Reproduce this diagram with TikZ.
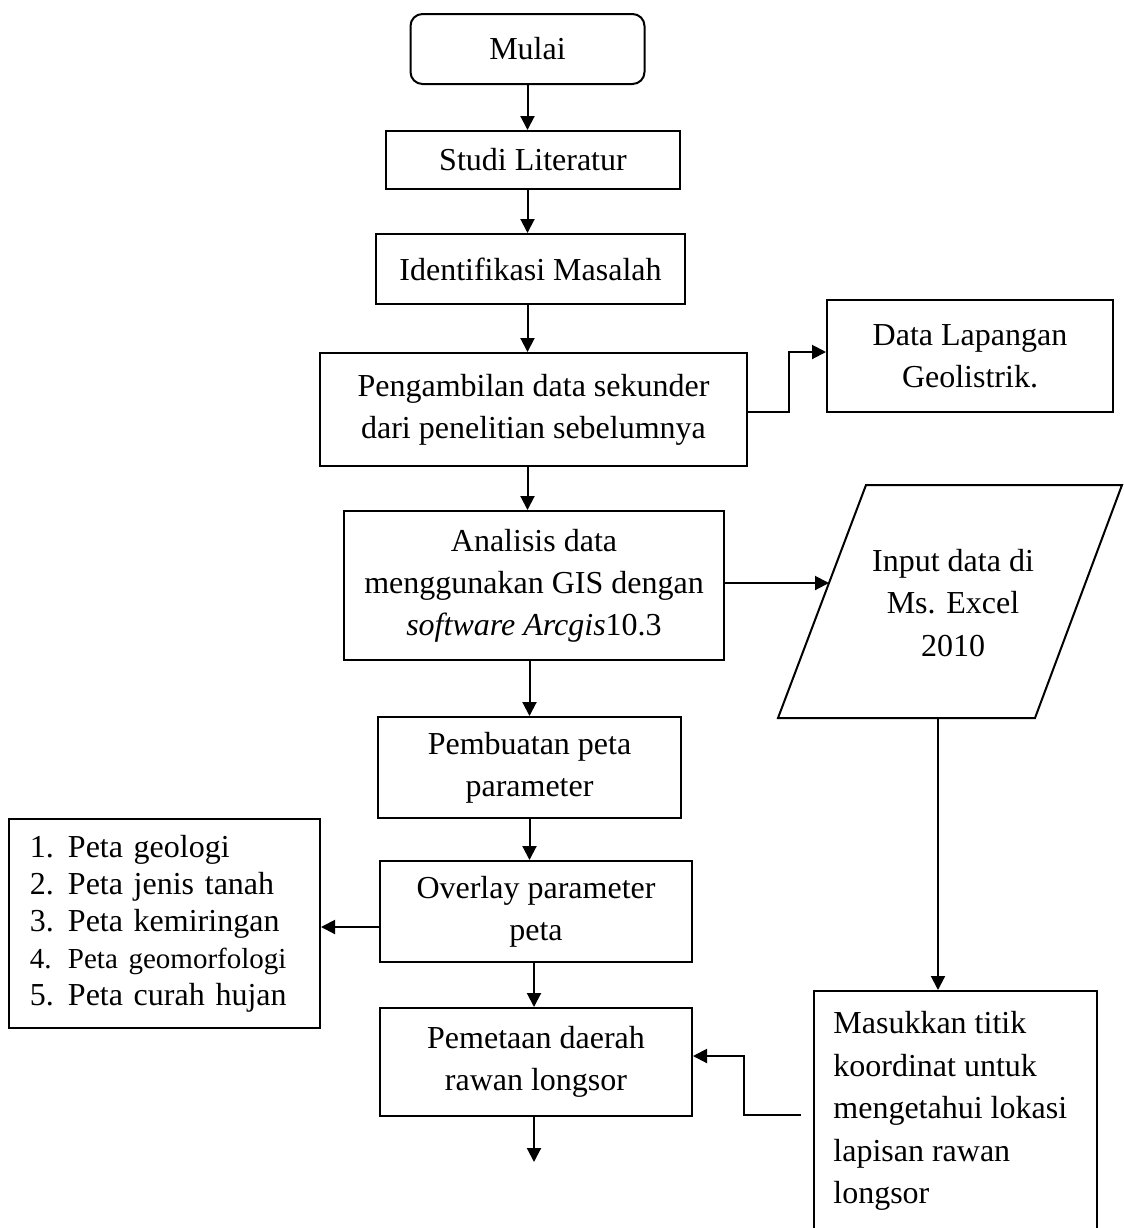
\documentclass[tikz,border=0pt]{standalone}
\usepackage{fontspec}
\setmainfont{Liberation Serif}
\usetikzlibrary{arrows.meta}
\tikzset{
  box/.style={draw, line width=1pt, inner sep=0pt, align=center, font=\fontsize{16}{21}\selectfont},
  arr/.style={line width=1pt, -{Triangle[length=7pt,width=7pt]}},
  txt/.style={inner sep=0pt, font=\fontsize{16}{21.25}\selectfont}
}
\begin{document}
\begin{tikzpicture}[x=0.5pt,y=-0.5pt]
\useasboundingbox (0,0) rectangle (1124,1228);
\fill[white] (0,0) rectangle (1124,1228);

\node[box, rounded corners=6pt, minimum width=117pt, minimum height=35pt] (mulai) at (527.5,49) {Mulai};
\node[box, minimum width=147pt, minimum height=29pt] (studi) at (533,160) {Studi Literatur};
\node[box, minimum width=154.5pt, minimum height=35pt] (ident) at (530.5,269) {Identifikasi Masalah};
\node[box, minimum width=213.5pt, minimum height=56.5pt] (ambil) at (533.5,409.5) {Pengambilan data sekunder\\dari penelitian sebelumnya};
\node[box, minimum width=143pt, minimum height=56pt] (data) at (970,356) {Data Lapangan\\Geolistrik.};
\node[box, minimum width=190pt, minimum height=74.5pt] (analisis) at (534,585.5) {Analisis data\\menggunakan GIS dengan\\\textit{software Arcgis}10.3};

\draw[line width=1pt] (866,485) -- (1122,485) -- (1035,718) -- (778,718) -- cycle;
\node[txt, align=center] (input) at (953,603) {Input data di\\Ms. Excel\\2010};
\coordinate (inl) at (829,583);
\coordinate (inb) at (938,718);

\node[box, minimum width=151.5pt, minimum height=50.5pt] (buat) at (529.5,767.5) {Pembuatan peta\\parameter};
\node[box, minimum width=156pt, minimum height=50.5pt] (overlay) at (536,911.5) {Overlay parameter\\peta};
\node[box, minimum width=156pt, minimum height=54pt] (petakan) at (536,1062) {Pemetaan daerah\\rawan longsor};

\node[box, minimum width=155.5pt, minimum height=104.5pt, text width=134.5pt, inner xsep=10.5pt, align=left, font=\fontsize{16}{18.5}\selectfont] (list) at (164.5,923.5)
{\makebox[19pt][l]{1.}Peta geologi\\
 \makebox[19pt][l]{2.}Peta jenis tanah\\
 \makebox[19pt][l]{3.}Peta kemiringan\\
 {\fontsize{14.5}{18.5}\selectfont\makebox[19pt][l]{4.}Peta geomorfologi}\\
 \makebox[19pt][l]{5.}Peta curah hujan};

\node[draw, line width=1pt, inner sep=0pt, minimum width=141.5pt, minimum height=130pt] (masuk) at (955.5,1121) {};
\node[txt, anchor=north west, align=left] (masuktxt) at (833,1011) {Masukkan titik\\koordinat untuk\\mengetahui lokasi\\lapisan rawan\\longsor};
\coordinate (mstart) at (801,1115);
\coordinate (end) at (534,1162);

\draw[arr] (mulai.south) -- (mulai.south |- studi.north);
\draw[arr] (studi.south -| mulai.south) -- (ident.north -| mulai.south);
\draw[arr] (ident.south -| mulai.south) -- (ambil.north -| mulai.south);
\draw[arr] (ambil.south -| mulai.south) -- (analisis.north -| mulai.south);
\draw[arr] (analisis.south -| buat.north) -- (buat.north);
\draw[arr] (buat.south) -- (buat.south |- overlay.north);
\draw[arr] (overlay.south -| end) -- (petakan.north -| end);
\draw[arr] (petakan.south -| end) -- (end);
\draw[arr] ([yshift=-1.25pt]ambil.east) -- ++(20.5pt,0) |- ([yshift=2pt]data.west);
\draw[arr] (analisis.east |- inl) -- (inl);
\draw[arr] (inb) -- (inb |- masuk.north);
\draw[arr] ([yshift=-7.75pt]overlay.west) -- ([yshift=-7.75pt]overlay.west -| list.east);
\draw[arr] (mstart) -- ++(-28.5pt,0) |- ([yshift=3pt]petakan.east);
\end{tikzpicture}
\end{document}
